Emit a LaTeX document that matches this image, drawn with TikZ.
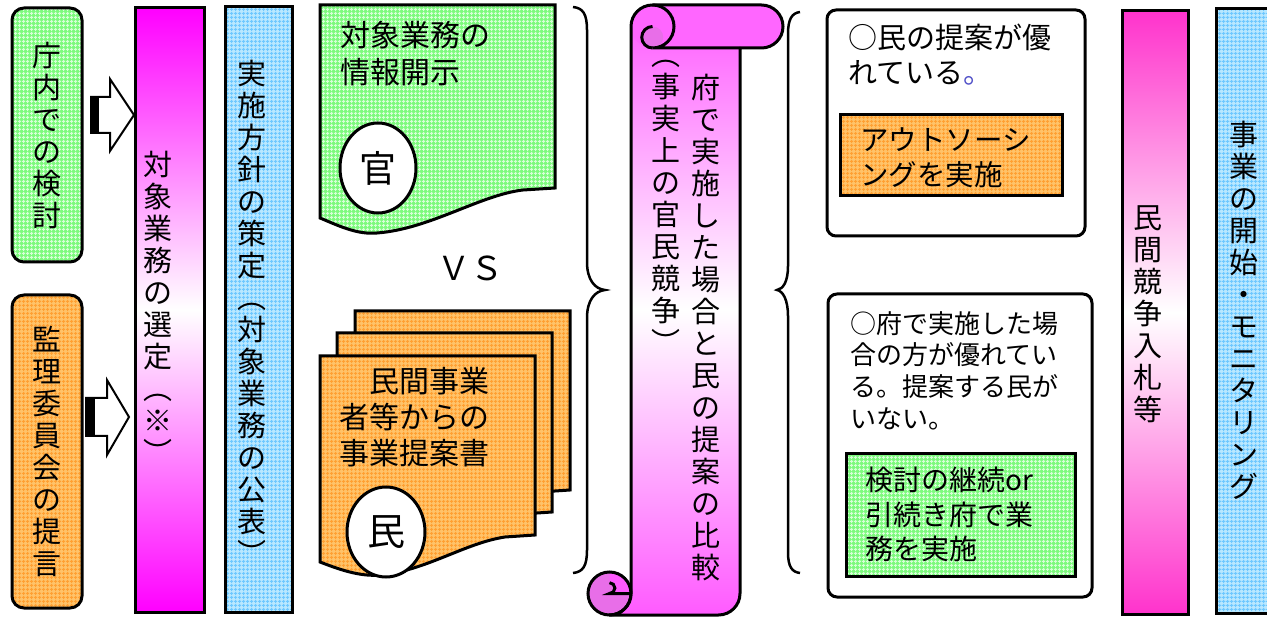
\documentclass[tikz,border=0pt]{standalone}
\usepackage{fontspec}
\setmainfont{Noto Sans CJK JP}
\usetikzlibrary{patterns.meta,shapes.geometric}
\definecolor{cG}{RGB}{125,250,125}
\definecolor{cGL}{RGB}{215,255,215}
\definecolor{cO}{RGB}{255,195,105}
\definecolor{cOL}{RGB}{255,160,50}
\definecolor{cC}{RGB}{185,232,255}
\definecolor{cCL}{RGB}{110,200,255}
\definecolor{cM}{RGB}{255,0,255}
\definecolor{cP}{RGB}{255,51,204}
\definecolor{cS}{RGB}{255,90,255}
\definecolor{cSroll}{RGB}{255,102,255}
\definecolor{cCurl}{RGB}{232,110,232}
\definecolor{cDot}{RGB}{80,80,200}
\newcommand{\orgdoc}[2]{\begin{scope}[shift={(#1,#2)}]\draw[bw,org] (0,0) -- (215,0) -- (215,179) -- (185,181) .. controls (145,187) and (105,215) .. (60,219) .. controls (40,221) and (18,213) .. (0,206) -- cycle;\end{scope}}
\begin{document}
\begin{tikzpicture}[x=1pt,y=-1pt,
  bw/.style={line width=3pt},
  grn/.style={preaction={fill=cG},pattern={Hatch[angle=0,distance=4pt,line width=1pt]},pattern color=cGL},
  org/.style={preaction={fill=cO},pattern={Hatch[angle=0,distance=4pt,line width=1pt]},pattern color=cOL},
  cyn/.style={preaction={fill=cC},pattern={Hatch[angle=0,distance=4pt,line width=1pt]},pattern color=cCL},
  vt/.style={align=center,inner sep=0pt,font=\fontsize{29}{32}\selectfont},
  ht/.style={align=left,inner sep=0pt,anchor=north west},
  blk/.style={line width=2pt,fill=white,line join=miter}]
\useasboundingbox (0,0) rectangle (1267,617);
\fill[white] (0,0) rectangle (1267,617);
\clip (0,0) rectangle (1267,617);

% left boxes
\node[draw,bw,grn,rounded corners=12pt,minimum width=70pt,minimum height=254pt,inner sep=0pt] (kentou) at (47,135) {};
\node[vt] (kentoutxt) at (47,135) {庁\\内\\で\\の\\検\\討};
\node[draw,bw,org,rounded corners=12pt,minimum width=70pt,minimum height=313pt,inner sep=0pt] (teigen) at (47,451.5) {};
\node[vt] (teigentxt) at (47,452) {監\\理\\委\\員\\会\\の\\提\\言};

% block arrows
\draw[blk] (91,97) -- (110,97) -- (110,79) -- (134,115) -- (110,151) -- (110,133) -- (91,133) -- cycle;
\fill (91,97) rectangle (99,133);
\draw[blk] (86,398) -- (107,398) -- (107,380) -- (129,417) -- (107,455) -- (107,436) -- (86,436) -- cycle;
\fill (86,398) rectangle (95,436);

% selection box
\node[draw,bw,minimum width=69pt,minimum height=604pt,inner sep=0pt,top color=cM,bottom color=cM,middle color=white] (sentei) at (170,310) {};
\node[vt] (senteitxt) at (158,307) {対\\象\\業\\務\\の\\選\\定\\︵\\※\\︶};

% policy box
\node[draw,bw,cyn,minimum width=67pt,minimum height=605pt,inner sep=0pt] (housin) at (258.5,309.5) {};
\node[vt] (housintxt) at (252,312) {実\\施\\方\\針\\の\\策\\定\\︵\\対\\象\\業\\務\\の\\公\\表\\︶};

% green document
\begin{scope}[shift={(320,5)}]
\draw[bw,grn] (0,0) -- (235,0) -- (235,183) -- (203,185) .. controls (160,190) and (110,224) .. (57,228) .. controls (37,230) and (17,220) .. (0,213) -- cycle;
\end{scope}
\node[ht,font=\fontsize{30}{37}\selectfont] (kaiji) at (340,21) {対象業務の\\情報開示};
\node[ellipse,draw,bw,fill=white,minimum width=76pt,minimum height=90pt,inner sep=0pt,font=\fontsize{37}{37}\selectfont] (kan) at (378,168) {官};

\node[font=\fontsize{33}{33}\selectfont] (vs) at (470,268) {ＶＳ};

% orange documents
\orgdoc{355}{311}
\orgdoc{337}{333}
\orgdoc{320}{356}
\node[ht,font=\fontsize{30}{36}\selectfont] (teian) at (339,367) {　民間事業\\者等からの\\事業提案書};
\node[ellipse,draw,bw,fill=white,minimum width=78pt,minimum height=90pt,inner sep=0pt,font=\fontsize{38}{38}\selectfont] (min) at (386,532) {民};

% braces
\draw[line width=2.5pt] (573,7) .. controls (583,8) and (587,14) .. (587,30) -- (587,262) .. controls (587,280) and (595,289) .. (605,290) .. controls (595,291) and (587,300) .. (587,318) -- (587,550) .. controls (587,566) and (583,572) .. (573,573);
\draw[line width=2.5pt] (800,12) .. controls (792,13) and (788,19) .. (788,34) -- (788,266) .. controls (788,282) and (783,289) .. (777,290) .. controls (783,291) and (788,300) .. (788,316) -- (788,552) .. controls (788,567) and (792,572) .. (800,573);

% scroll
\shade[top color=cS,bottom color=cS,middle color=white] (631,26.5) -- (631,593.5) arc[start angle=0,end angle=90,radius=21.5] -- (718.5,615) arc[start angle=90,end angle=0,radius=21.5] -- (740,48) -- (761.5,48) arc[start angle=90,end angle=-90,radius=21.5] -- (652.5,5) arc[start angle=-90,end angle=-180,radius=21.5] -- cycle;
\fill[cSroll] (652.5,5) -- (761.5,5) arc[start angle=-90,end angle=90,radius=21.5] -- (652.5,48) arc[start angle=90,end angle=270,radius=21.5] -- cycle;
\fill[cCurl] (652.5,37.25) circle[radius=10.75];
\fill[cCurl] (609.5,593.5) circle[radius=21.5];
\fill[cS] (609.5,582.7) arc[start angle=-90,end angle=90,radius=5.4] -- (631,593.5) arc[start angle=0,end angle=-90,radius=21.5] -- cycle;
\draw[bw,line join=round] (631,26.5) -- (631,593.5) arc[start angle=0,end angle=90,radius=21.5] -- (718.5,615) arc[start angle=90,end angle=0,radius=21.5] -- (740,48) -- (761.5,48) arc[start angle=90,end angle=-90,radius=21.5] -- (652.5,5) arc[start angle=-90,end angle=-180,radius=21.5] -- cycle;
\draw[bw] (652.5,5) arc[start angle=-90,end angle=90,radius=21.5] -- (740,48);
\draw[bw] (652.5,48) arc[start angle=90,end angle=270,radius=10.75];
\draw[bw] (609.5,593.5) circle[radius=21.5];
\draw[bw] (609.5,582.7) arc[start angle=-90,end angle=90,radius=5.4] -- (631,593.5);
\node[vt] (hikaku) at (706,328) {府\\で\\実\\施\\し\\た\\場\\合\\と\\民\\の\\提\\案\\の\\比\\較};
\node[vt] (kyousou) at (666,207) {︵\\事\\実\\上\\の\\官\\民\\競\\争\\︶};

% right upper box
\draw[bw,rounded corners=9pt] (827,10) rectangle (1085,236);
\node[ht,font=\fontsize{29}{35}\selectfont] (minyu) at (848,24) {○民の提案が優\\れている\textcolor{cDot}{。}};
\node[draw,bw,org,minimum width=222pt,minimum height=81pt,inner sep=0pt] (outbox) at (951,155.5) {};
\node[ht,font=\fontsize{28.5}{35}\selectfont] (out) at (860,127) {アウトソーシ\\ングを実施};

% right lower box
\draw[bw,rounded corners=9pt] (828,294) rectangle (1092,597);
\node[ht,font=\fontsize{26}{31.7}\selectfont] (fuyu) at (850,311) {○府で実施した場\\合の方が優れてい\\る。提案する民が\\いない。};
\node[draw,bw,grn,minimum width=229pt,minimum height=122pt,inner sep=0pt] (keibox) at (960.5,515) {};
\node[ht,font=\fontsize{28}{34.5}\selectfont] (keizoku) at (865,467) {検討の継続or\\引続き府で業\\務を実施};

% bidding box
\node[draw,bw,minimum width=66pt,minimum height=603pt,inner sep=0pt,top color=cP,bottom color=cP,middle color=white] (nyusatsu) at (1155,312.5) {};
\node[vt] (nyusatsutxt) at (1148,314) {民\\間\\競\\争\\入\\札\\等};

% monitoring box
\node[draw,bw,cyn,minimum width=56pt,minimum height=604pt,inner sep=0pt] (monibox) at (1244,311) {};
\node[vt] (moni) at (1244,310) {事\\業\\の\\開\\始\\・\\モ\\ニ\\タ\\リ\\ン\\グ};
\end{tikzpicture}
\end{document}
